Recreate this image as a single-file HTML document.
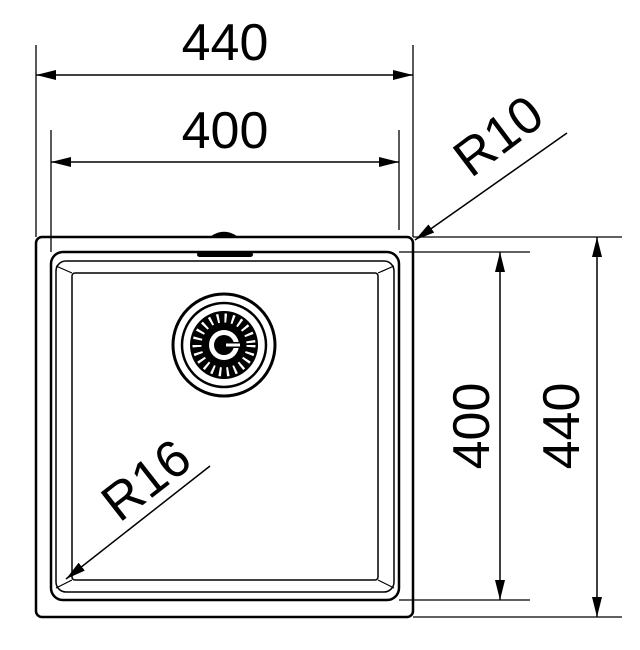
<!DOCTYPE html>
<html><head><style>body{margin:0;background:#fff}svg{display:block}</style></head><body>
<svg width="640" height="650" viewBox="0 0 640 650" xmlns="http://www.w3.org/2000/svg" font-family="Liberation Sans, sans-serif">
<defs>
<marker id="a" viewBox="0 0 20 10" refX="20" refY="5" markerWidth="20" markerHeight="10" markerUnits="userSpaceOnUse" orient="auto-start-reverse"><path d="M0,0 L20,5 L0,10 z" fill="#000"/></marker>
</defs>
<g stroke="#000" fill="none">
<g stroke-width="1.3">
<line x1="36" y1="45" x2="36" y2="237"/>
<line x1="413" y1="45" x2="413" y2="237"/>
<line x1="51" y1="130" x2="51" y2="252"/>
<line x1="399" y1="130" x2="399" y2="230"/>
<line x1="413" y1="237" x2="622" y2="237"/>
<line x1="413" y1="617" x2="622" y2="617"/>
<line x1="399" y1="252" x2="530" y2="252"/>
<line x1="399" y1="600" x2="530" y2="600"/>
</g>
<g stroke-width="1.5">
<line x1="36" y1="75" x2="413" y2="75" marker-start="url(#a)" marker-end="url(#a)"/>
<line x1="51" y1="162" x2="399" y2="162" marker-start="url(#a)" marker-end="url(#a)"/>
<line x1="597" y1="237" x2="597" y2="617" marker-start="url(#a)" marker-end="url(#a)"/>
<line x1="500" y1="252" x2="500" y2="600" marker-start="url(#a)" marker-end="url(#a)"/>
<line x1="567" y1="133" x2="415" y2="240" marker-end="url(#a)"/>
<line x1="210" y1="466" x2="66" y2="579" marker-end="url(#a)"/>
</g>
<rect x="36" y="237" width="377" height="380" rx="6" stroke-width="2.5"/>
<rect x="51" y="252" width="348" height="348" rx="12" stroke-width="2.5"/>
<rect x="56" y="261" width="338" height="331" rx="10" stroke-width="1.5"/>
<rect x="72" y="273" width="306" height="307" rx="3" stroke-width="1.5"/>
<line x1="56" y1="266" x2="72" y2="273" stroke-width="1.2"/>
<line x1="394" y1="266" x2="378" y2="273" stroke-width="1.2"/>
<line x1="56" y1="588" x2="72" y2="580" stroke-width="1.2"/>
<line x1="394" y1="588" x2="378" y2="580" stroke-width="1.2"/>
<path d="M211,237 Q224,228 237,237" fill="#000" stroke-width="1.5"/>
<rect x="197" y="252" width="56" height="5" rx="2.5" fill="#000" stroke="none"/>
<circle cx="224" cy="345" r="51" stroke-width="3"/>
<circle cx="224" cy="345" r="42" stroke-width="2.5"/>
<circle cx="224" cy="345" r="34" fill="#000" stroke="none"/>
<circle cx="224" cy="345" r="27" stroke="#fff" stroke-width="9" stroke-dasharray="2.2 5.3"/>
<circle cx="224" cy="345" r="15" fill="#fff" stroke="none"/>
<circle cx="224" cy="345" r="10" fill="#000" stroke="none"/>
<rect x="222" y="342" width="18" height="6" fill="#000" stroke="none"/>
<rect x="226" y="343.5" width="14" height="3" fill="#fff" stroke="none"/>
</g>
<g font-size="52" fill="#000" text-anchor="middle">
<text x="225" y="60">440</text>
<text x="225" y="148">400</text>
<text transform="translate(579,426) rotate(-90)">440</text>
<text transform="translate(489,426) rotate(-90)">400</text>
<text transform="translate(509,150) rotate(-37)">R10</text>
<text transform="translate(157,494) rotate(-38)">R16</text>
</g>
</svg>
</body></html>
